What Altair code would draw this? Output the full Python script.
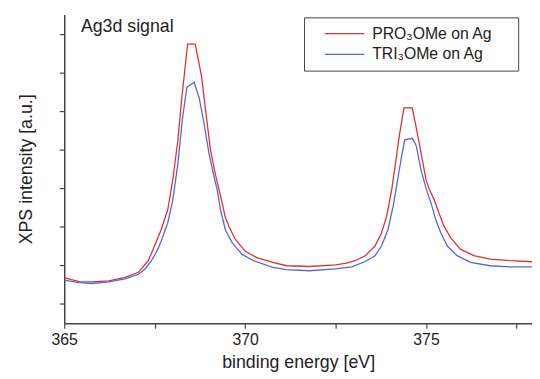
import altair as alt
import pandas as pd

series_names = ["PRO₃OMe on Ag", "TRI₃OMe on Ag"]
series_colors = ["#e0322f", "#5567d6"]

pro_x = [365.0, 365.41, 365.77, 366.23, 366.68, 367.05, 367.14, 367.32, 367.45, 367.68,
         367.86, 368.0, 368.14, 368.25, 368.41, 368.62, 368.79, 368.91, 369.04, 369.18,
         369.32, 369.45, 369.55, 369.73, 370.0, 370.32, 370.77, 371.14, 371.77, 372.5,
         372.77, 373.04, 373.32, 373.59, 373.77, 373.91, 374.05, 374.18, 374.27, 374.39,
         374.62, 374.73, 374.86, 375.0, 375.1, 375.23, 375.36, 375.5, 375.68, 375.95,
         376.32, 376.77, 377.32, 378.0]
pro_y = [1.18, 1.08, 1.07, 1.1, 1.19, 1.32, 1.42, 1.62, 1.9, 2.43,
         2.94, 3.71, 4.73, 5.84, 7.23, 7.23, 6.43, 5.5, 4.5, 3.85,
         3.3, 2.75, 2.51, 2.17, 1.87, 1.7, 1.58, 1.49, 1.47, 1.51,
         1.55, 1.62, 1.75, 2.0, 2.34, 2.77, 3.45, 4.3, 4.9, 5.58,
         5.58, 5.07, 4.42, 3.72, 3.45, 3.19, 2.85, 2.51, 2.22, 1.92,
         1.75, 1.66, 1.62, 1.59]

tri_x = [365.0, 365.41, 365.77, 366.23, 366.68, 367.05, 367.25, 367.41, 367.59, 367.68,
         367.86, 368.0, 368.14, 368.27, 368.39, 368.59, 368.73, 368.86, 369.0, 369.14,
         369.23, 369.32, 369.45, 369.64, 369.91, 370.23, 370.77, 371.14, 371.77, 372.5,
         372.95, 373.32, 373.59, 373.77, 373.95, 374.09, 374.23, 374.32, 374.41, 374.62,
         374.73, 374.86, 375.0, 375.14, 375.27, 375.41, 375.59, 375.86, 376.23, 376.77,
         377.32, 378.0]
tri_y = [1.12, 1.05, 1.03, 1.07, 1.15, 1.27, 1.42, 1.62, 1.92, 2.13,
         2.6, 3.19, 4.13, 5.32, 6.11, 6.24, 5.84, 5.2, 4.4, 3.8,
         3.45, 2.94, 2.43, 2.09, 1.79, 1.62, 1.45, 1.39, 1.36, 1.41,
         1.46, 1.6, 1.75, 2.0, 2.43, 3.02, 3.79, 4.3, 4.75, 4.79,
         4.6, 3.98, 3.5, 3.11, 2.68, 2.34, 2.0, 1.75, 1.58, 1.49,
         1.46, 1.46]

x_ticks = [365, 367.5, 370, 372.5, 375, 377.5]
y_ticks = [0.5, 1.5, 2.5, 3.5, 4.5, 5.5, 6.5, 7.5]
annotation = ["Ag3d signal"]

FONT = "Liberation Sans"

rows = []
for xv, yv in zip(pro_x, pro_y):
    rows.append({"energy": xv, "intensity": yv, "series": series_names[0], "order": 0})
for xv, yv in zip(tri_x, tri_y):
    rows.append({"energy": xv, "intensity": yv, "series": series_names[1], "order": 1})
df = pd.DataFrame(rows)

x_scale = alt.Scale(domain=[365, 377.93], nice=False, zero=False)
y_scale = alt.Scale(domain=[0, 8], nice=False, zero=False)

lines = alt.Chart(df).mark_line(strokeWidth=1.3, clip=True).encode(
    x=alt.X("energy:Q", scale=x_scale,
            axis=alt.Axis(values=x_ticks, grid=False, tickSize=5, labelPadding=4,
                          labelFlush=False,
                          labelExpr="datum.value % 5 == 0 ? datum.label : ''",
                          format="d", title="binding energy [eV]", titlePadding=6)),
    y=alt.Y("intensity:Q", scale=y_scale,
            axis=alt.Axis(values=y_ticks, grid=False, tickSize=5, labels=False,
                          title="XPS intensity [a.u.]", titlePadding=24)),
    color=alt.Color("series:N",
                    scale=alt.Scale(domain=series_names, range=series_colors),
                    legend=alt.Legend(orient="none", legendX=243, legendY=3,
                                      title="M", titleOrient="right", titleOpacity=0,
                                      titleFontSize=16, titlePadding=6,
                                      symbolType="stroke", symbolSize=1600,
                                      symbolStrokeWidth=1.2, labelFontSize=16,
                                      labelFont=FONT, labelColor="#222",
                                      strokeColor="#444", padding=6, clipHeight=21,
                                      rowPadding=0, symbolOffset=14, labelOffset=7)),
    order="order:Q",
    detail="series:N",
)

ann_df = pd.DataFrame({"energy": [365.46], "intensity": [7.67], "label": annotation})
ann = alt.Chart(ann_df).mark_text(align="left", baseline="middle", fontSize=18,
                                  font=FONT, color="#222").encode(
    x=alt.X("energy:Q", scale=x_scale),
    y=alt.Y("intensity:Q", scale=y_scale),
    text="label:N",
)

chart = alt.layer(lines, ann).properties(
    width=474, height=313,
    background="white",
    autosize=alt.AutoSizeParams(type="none"),
    padding={"left": 57, "top": 4, "right": 0, "bottom": 54},
).configure_view(stroke=None).configure_axis(
    domainColor="#444", domainWidth=1.5, tickColor="#444", tickWidth=1.2,
    labelFont=FONT, labelFontSize=16, labelColor="#222",
    titleFont=FONT, titleFontSize=18, titleFontWeight="normal", titleColor="#222",
)

chart.save("out.html", embed_options={"renderer": "svg", "actions": False})
